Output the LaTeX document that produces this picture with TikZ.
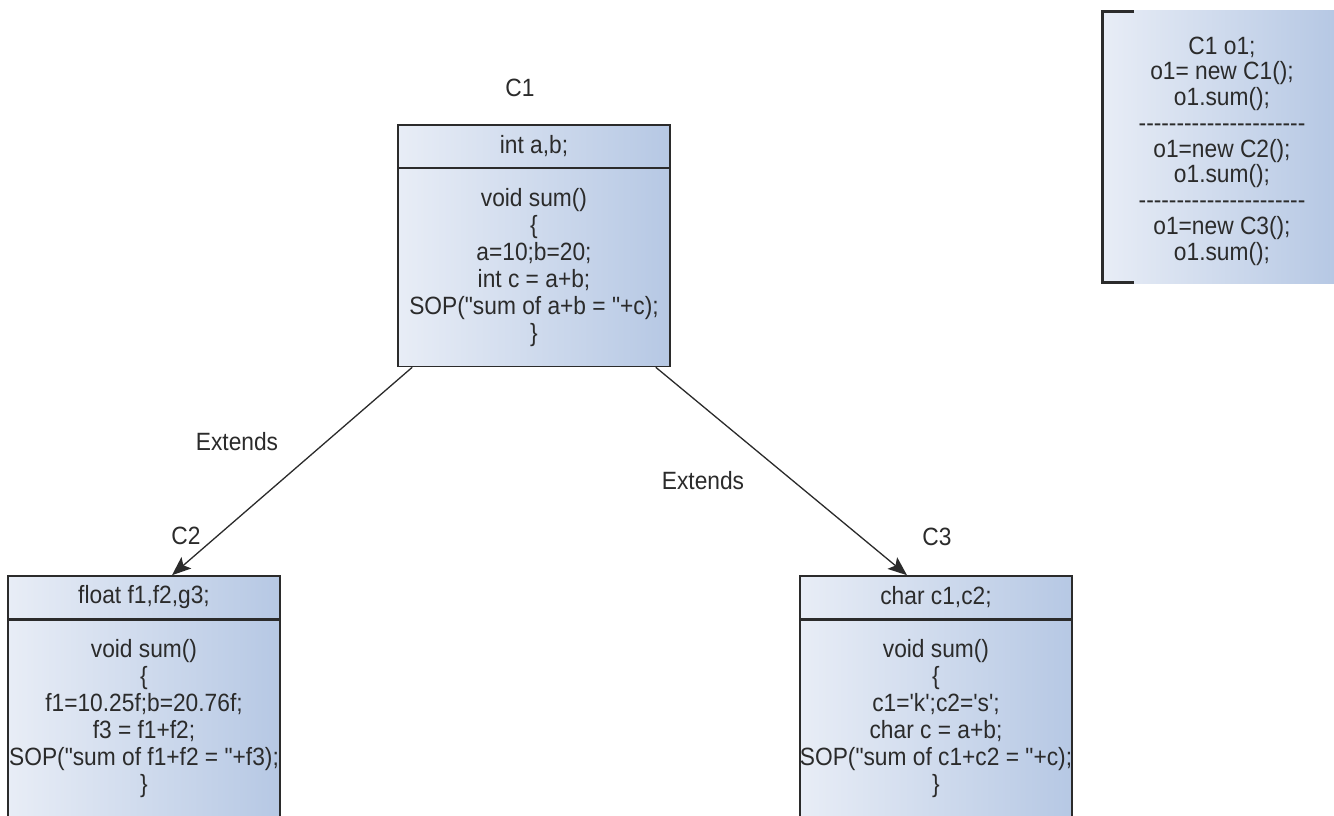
\documentclass[tikz,border=0pt]{standalone}
\usepackage{fontspec}
\setmainfont{Liberation Sans}[Ligatures={TeXOff,CommonOff},FakeStretch=0.91]
\usetikzlibrary{arrows.meta,calc}
\definecolor{ink}{HTML}{2B2B2B}
\definecolor{boxL}{HTML}{E8EDF6}
\definecolor{boxR}{HTML}{B6C8E4}
\begin{document}
\begin{tikzpicture}[x=1pt,y=-1pt,
  every node/.style={text=ink, font=\fontsize{25}{27}\selectfont},
  classpart/.style={draw=ink, line width=1.6pt, left color=boxL, right color=boxR,
    minimum width=272pt, inner sep=0pt, align=center},
  header/.style={classpart, minimum height=43pt},
  methods/.style={classpart, minimum height=198pt},
  inherit/.style={draw=ink, line width=1.3pt,
    -{Stealth[length=19pt,width=15pt,inset=4pt]}},
  plain/.style={inner sep=0pt, align=center}
]
\useasboundingbox (0,0) rectangle (1334,816);
\clip (0,0) rectangle (1334,816);
\fill[white] (0,0) rectangle (1334,816);

% class C1
\node[plain] (lc1) at (520,88) {C1};
\node[header]  (c1head) at (534,146.5) {int a,b;};
\node[methods] (c1body) at (534,267.5) {void sum()\\ \{\\ a=10;b=20;\\ int c = a+b;\\ SOP("sum of a+b = "+c);\\ \}};

% class C2
\node[plain] (lc2) at (186,536) {C2};
\node[header]  (c2head) at (144,597.5) {float f1,f2,g3;};
\node[methods] (c2body) at (144,719) {void sum()\\ \{\\ f1=10.25f;b=20.76f;\\ f3 = f1+f2;\\ SOP("sum of f1+f2 = "+f3);\\ \}};

% class C3
\node[plain] (lc3) at (937,537) {C3};
\node[header]  (c3head) at (936,597.5) {char c1,c2;};
\node[methods] (c3body) at (936,719) {void sum()\\ \{\\ c1='k';c2='s';\\ char c = a+b;\\ SOP("sum of c1+c2 = "+c);\\ \}};

% inheritance arrows
\draw[inherit] ($(c1body.south west)+(15,0)$) -- ($(c2head.north)+(28,0)$);
\draw[inherit] ($(c1body.south east)+(-15,0)$) -- ($(c3head.north)+(-29,0)$);
\node[plain] (ext1) at (237,442) {Extends};
\node[plain] (ext2) at (703,481) {Extends};

% usage note
\shade[left color=boxL, right color=boxR] (1102,11) rectangle (1334,283);
\draw[ink, line width=3pt] (1134,12) -- (1102,12) -- (1102,282) -- (1134,282);
\node[plain, font=\fontsize{25}{25.75}\selectfont] (note) at (1222,151)
  {C1 o1;\\ o1= new C1();\\ o1.sum();\\ ----------------------\\ o1=new C2();\\ o1.sum();\\ ----------------------\\ o1=new C3();\\ o1.sum();};
\end{tikzpicture}
\end{document}
